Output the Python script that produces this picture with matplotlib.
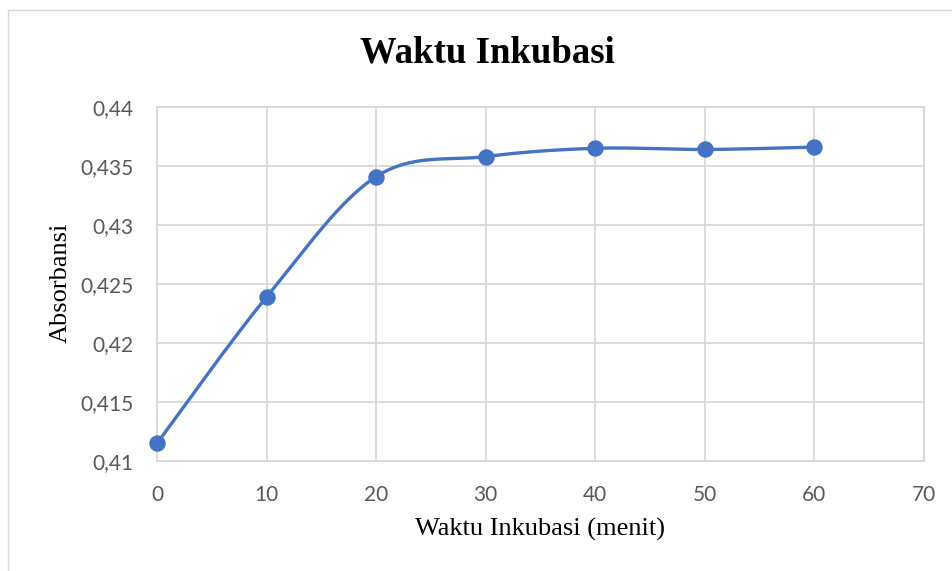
import numpy as np
import matplotlib
matplotlib.use("Agg")
import matplotlib.pyplot as plt
from matplotlib.patches import Rectangle
from matplotlib.ticker import FuncFormatter, MultipleLocator

waktu = [0, 10, 20, 30, 40, 50, 60]
absorbansi = [0.4115, 0.4239, 0.4341, 0.4358, 0.4365, 0.4364, 0.4366]
title = "Waktu Inkubasi"
xlabel = "Waktu Inkubasi (menit)"
ylabel = "Absorbansi"

W, H = 952, 571
fig = plt.figure(figsize=(W / 100, H / 100), dpi=100)
fig.patch.set_facecolor("white")
fig.add_artist(Rectangle((8 / W, -0.01), 1.0, 1 - 10 / H + 0.01, transform=fig.transFigure,
                         fill=False, edgecolor="#d9d9d9", linewidth=1))

ax = fig.add_axes([157 / W, 110 / H, (924 - 157) / W, (461 - 107) / H])
ax.set_xlim(0, 70)
ax.set_ylim(0.41, 0.44)
ax.xaxis.set_major_locator(MultipleLocator(10))
ax.yaxis.set_major_locator(MultipleLocator(0.005))


def fmt(v, pos):
    s = ("%.3f" % v).rstrip("0").rstrip(".")
    return s.replace(".", ",")


ax.yaxis.set_major_formatter(FuncFormatter(fmt))
ax.grid(True, color="#d9d9d9", linewidth=1.3)
ax.set_axisbelow(True)
for sp in ax.spines.values():
    sp.set_color("#d9d9d9")
    sp.set_linewidth(1.3)
ax.tick_params(length=0, labelsize=15, labelcolor="#595959")
ax.tick_params(axis="y", pad=17)
ax.tick_params(axis="x", pad=17)
for lab in ax.get_xticklabels() + ax.get_yticklabels():
    lab.set_family("Lato")

# smooth curve (Catmull-Rom style Bezier in screen-proportional space)
pw, ph = 767.0, 354.0
px = np.array(waktu, float) / 70 * pw
py = (np.array(absorbansi) - 0.41) / 0.03 * ph
n = len(px)
cx, cy = [], []
for i in range(n - 1):
    p0 = np.array([px[max(i - 1, 0)], py[max(i - 1, 0)]])
    p1 = np.array([px[i], py[i]])
    p2 = np.array([px[i + 1], py[i + 1]])
    p3 = np.array([px[min(i + 2, n - 1)], py[min(i + 2, n - 1)]])
    c1 = p1 + (p2 - p0) / 6
    c2 = p2 - (p3 - p1) / 6
    t = np.linspace(0, 1, 40)[:, None]
    b = (1 - t) ** 3 * p1 + 3 * (1 - t) ** 2 * t * c1 + 3 * (1 - t) * t ** 2 * c2 + t ** 3 * p2
    cx.extend(b[:, 0]); cy.extend(b[:, 1])
cx = np.array(cx) / pw * 70
cy = np.array(cy) / ph * 0.03 + 0.41
ax.plot(cx, cy, color="#4472C4", linewidth=2.4, solid_capstyle="round", clip_on=False, zorder=3)
ax.plot(waktu, absorbansi, "o", color="#4472C4", markersize=10.8, clip_on=False, zorder=4)

fig.text(487 / W, 1 - 53 / H, title, ha="center", va="center", family="Liberation Serif",
         fontweight="bold", fontsize=26.5, color="black")
fig.text(540 / W, 1 - 529 / H, xlabel, ha="center", va="center", family="Liberation Serif",
         fontsize=19, color="black")
fig.text(61 / W, 1 - 283 / H, ylabel, ha="center", va="center", rotation=90,
         family="Liberation Serif", fontsize=19, color="black")

fig.savefig("out.png", dpi=100)
